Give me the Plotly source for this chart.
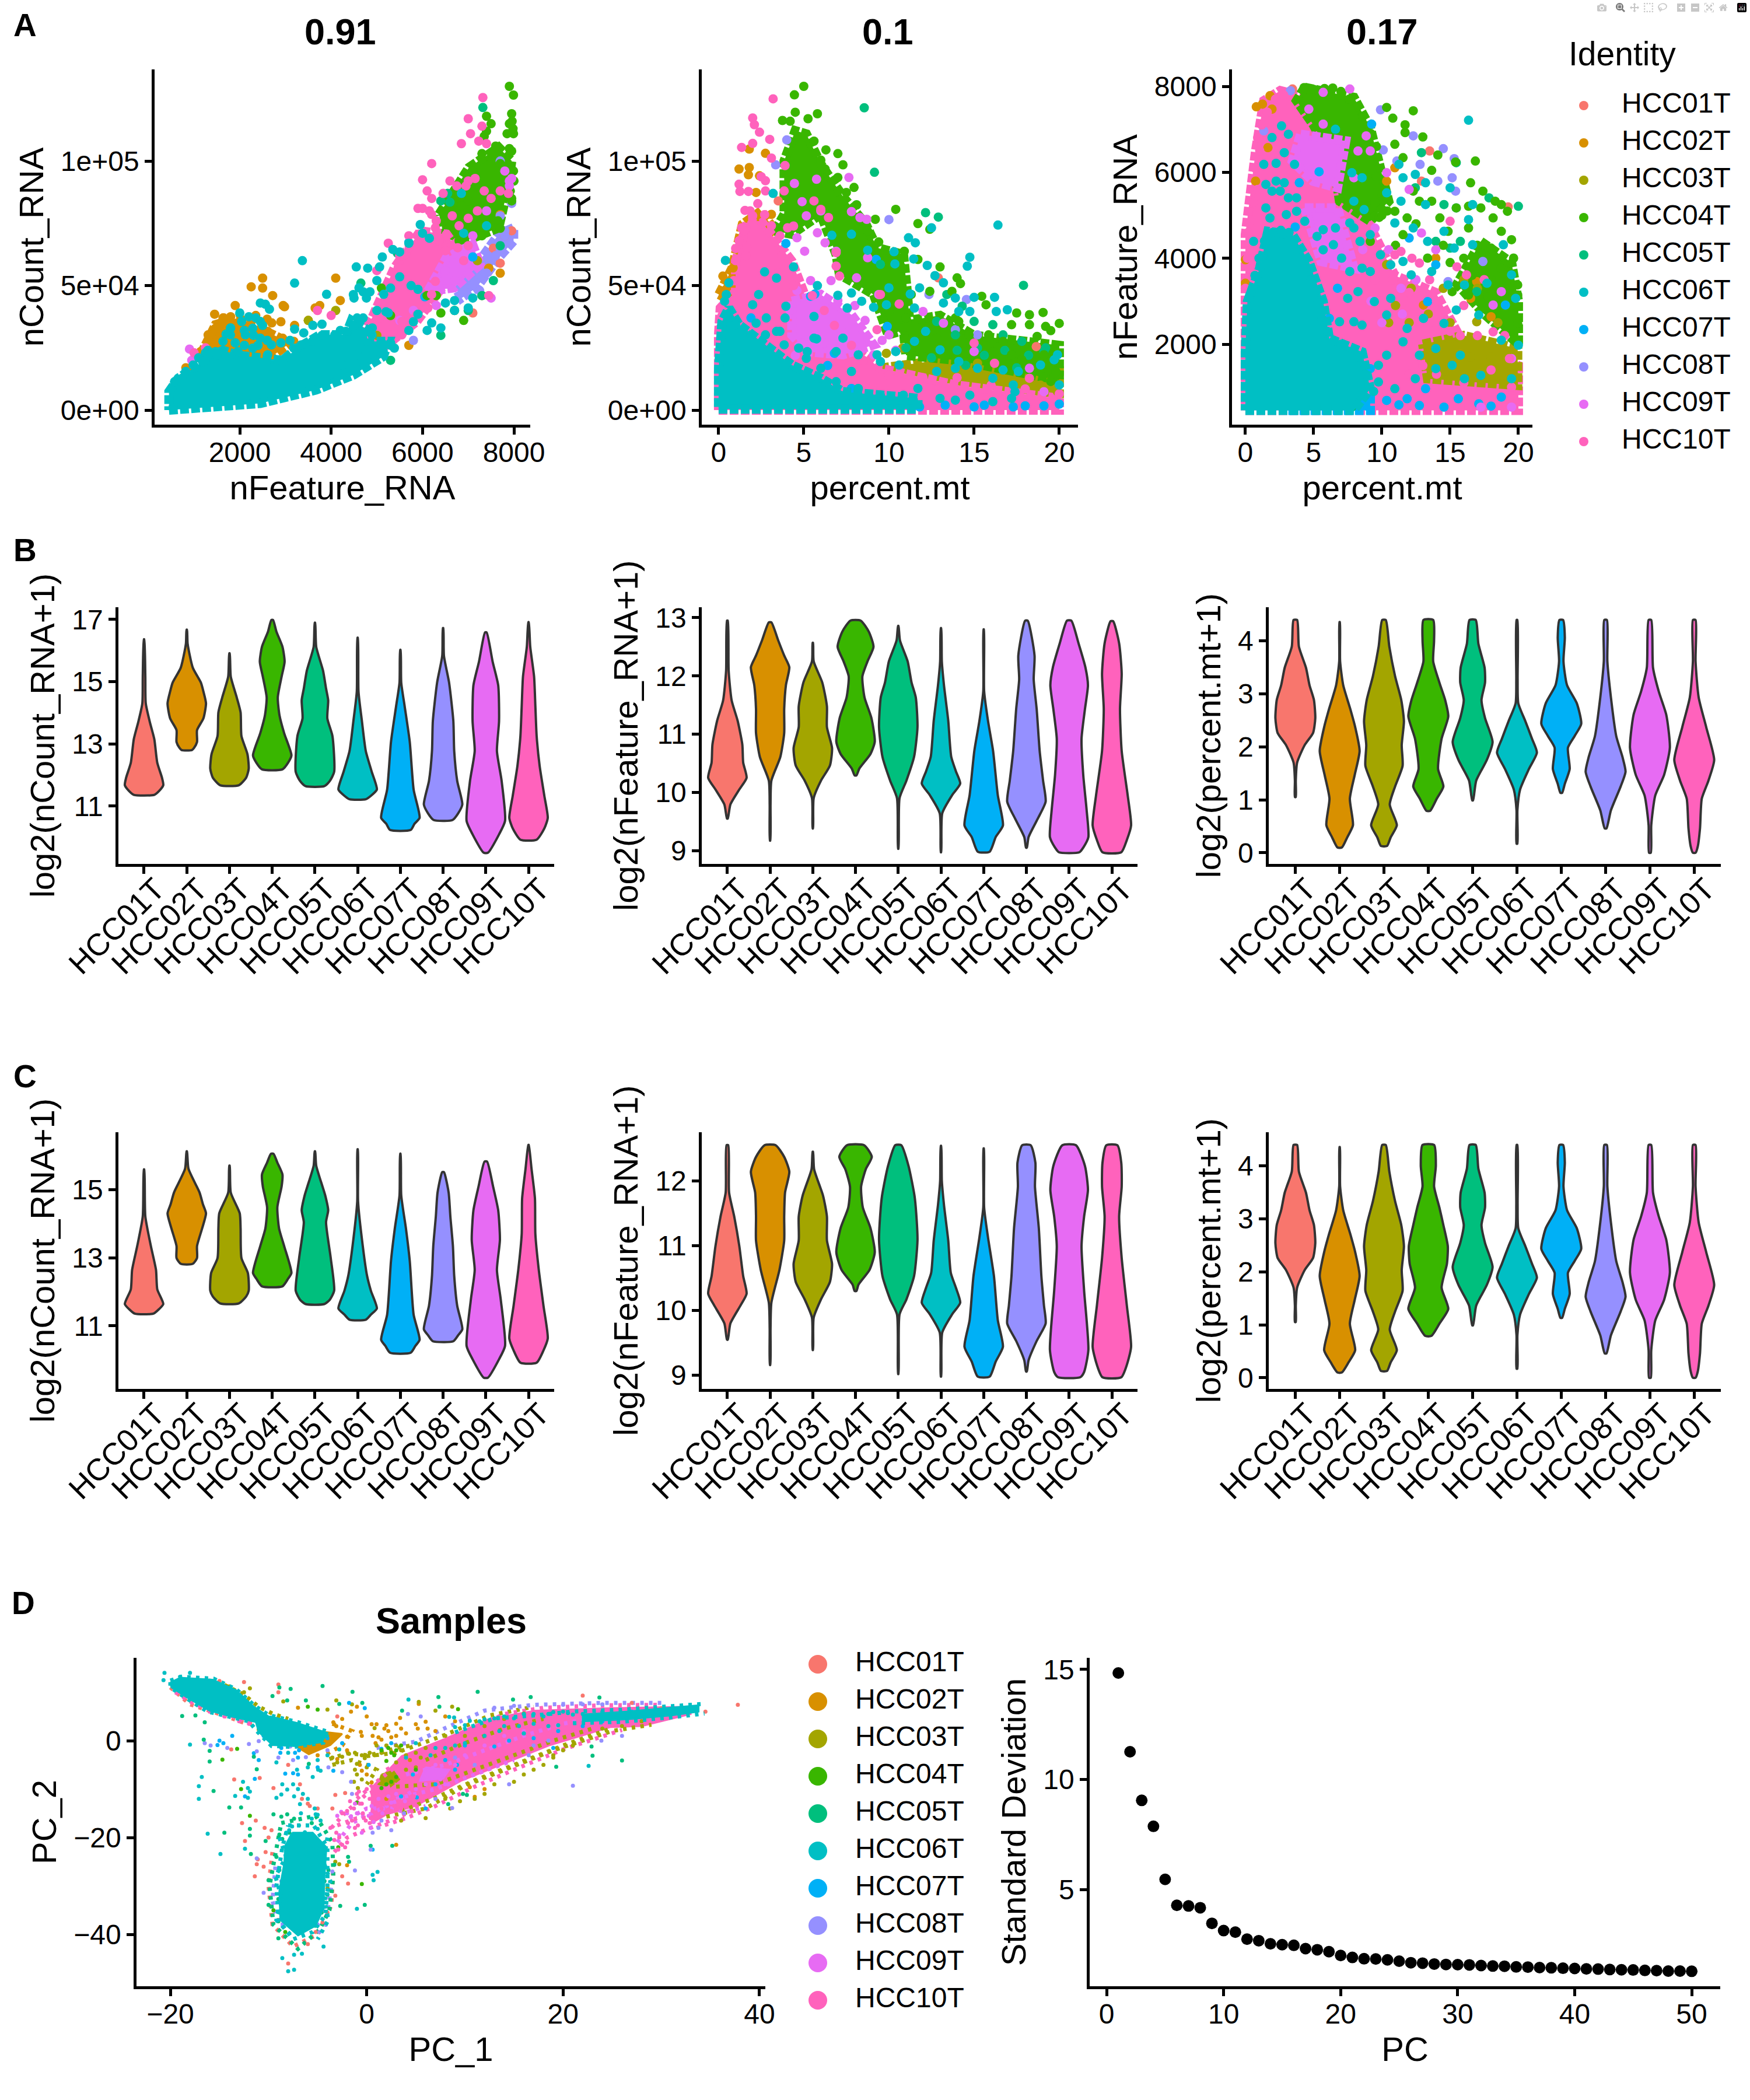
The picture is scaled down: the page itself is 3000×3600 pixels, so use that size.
import plotly.graph_objects as go

SAMPLES = ["HCC01T", "HCC02T", "HCC03T", "HCC04T", "HCC05T", "HCC06T", "HCC07T", "HCC08T", "HCC09T", "HCC10T"]
COLORS = ["#F8766D", "#D89000", "#A3A500", "#39B600", "#00BF7D", "#00BFC4", "#00B0F6", "#9590FF", "#E76BF3", "#FF62BC"]
# cyan sits on top in the scatter panels
DRAW_ORDER = [0, 1, 2, 6, 7, 4, 3, 8, 9]
FONT = "Liberation Sans"

# ---- panel A, nFeature_RNA vs nCount_RNA ----
A1_DENSE = {
    1: [[(1144, 22200), (1470, 34300), (1959, 37000), (2448, 33000), (3100, 27000), (2448, 18000), (1633, 16800)]],
    7: [[(6769, 47700), (7258, 59800), (7666, 70600), (7992, 73200), (7992, 67900), (7666, 61200), (7177, 49100), (6851, 45000)]],
    3: [[(6361, 78600), (7014, 97400), (7666, 105500), (7951, 100100), (7870, 89400), (7666, 73200), (6932, 67900), (6443, 71900)]],
    9: [[(4405, 22200), (4894, 37000), (5383, 57100), (5954, 71900), (6524, 70600), (6851, 62500), (6524, 51700), (5872, 35600), (5220, 26200), (4894, 22200)]],
    8: [[(6117, 47700), (6524, 61200), (7095, 66500), (7258, 58500), (6687, 49100)]],
    5: [[(451, 0), (2448, 2700), (3671, 8100), (4486, 14100), (5139, 21500), (5261, 27600), (4812, 27600), (4731, 32900), (4446, 36000), (4323, 30200), (3753, 30200), (3264, 24900), (2937, 20000), (2448, 21000), (1959, 22000), (1633, 24000), (1307, 21000), (981, 16800), (655, 12800), (451, 7400)]],
}
A1_HCC01 = [(7800, 70000), (7700, 59000), (7950, 72000), (7550, 65000), (7100, 39000)]
A1_HCC02 = [(2500, 53000), (2250, 49500), (2500, 49000), (2720, 46000), (2950, 42000), (2980, 41500), (1900, 42000), (1450, 38500), (2350, 38000), (2600, 36500), (2700, 35000), (2900, 35500), (3200, 34000), (3750, 42000), (3650, 41000), (4100, 53000), (1650, 37000), (1800, 37500), (2050, 36000), (2200, 34000), (820, 17000), (1000, 16000), (1100, 21000), (7700, 78500), (7450, 57000), (7700, 55000), (7300, 46000), (5700, 26000), (3500, 36000), (4200, 44000), (1307, 30200), (1470, 32900), (1633, 37000), (1144, 23500), (2611, 31600), (2937, 28900), (3182, 27600), (1959, 18100), (2367, 20200)]
A1_HCC03 = [(3500, 36000), (4100, 40000), (5000, 30000), (7200, 60000)]
A1_HCC04 = [(7900, 130000), (7990, 126500), (7950, 119000), (7960, 116000), (7900, 115000), (7400, 118000), (7500, 115000), (7850, 111000), (7990, 111000), (7980, 113000), (7350, 110000), (7400, 112000), (7600, 106000), (7900, 105000), (7950, 104000), (7300, 103000), (7100, 96000), (7700, 99000), (7990, 96000), (8000, 92000), (7950, 85000), (7950, 84000), (7920, 88000), (7600, 89000), (7300, 88000), (7000, 84000), (6850, 82000), (6700, 80000), (7500, 80000), (7650, 76000), (7700, 73000), (7300, 70000), (7100, 74000), (6800, 68000), (6100, 46000), (6400, 39000), (6700, 40000), (6900, 36000), (6300, 46000), (5300, 38000), (5100, 49000)]
A1_HCC05 = [(7320, 121500), (5450, 63000), (6550, 87000), (6600, 83500), (6400, 84000), (7300, 46000), (6400, 30000), (4650, 51000), (7550, 52000), (7000, 40000), (5300, 20000), (7700, 66000)]
A1_HCC06 = [(3370, 60000), (3200, 51000), (3900, 46500), (4550, 57500), (4800, 57000), (5060, 57500), (5120, 61500), (5350, 64500), (5500, 63500), (5700, 67000), (5950, 74500), (6000, 71000), (6150, 69000), (6850, 87000), (7400, 74000), (6900, 71000), (5000, 52000), (5150, 46500), (5300, 49000), (5500, 53500), (5750, 50000), (5900, 48500), (4500, 45000), (4700, 47500), (4850, 47500), (2450, 43000), (2560, 42500), (2650, 40500), (2000, 39000), (2200, 37500), (2350, 37000), (1800, 33000), (1700, 30500), (2100, 32000), (2500, 34000), (2300, 30000), (2600, 28000), (2900, 27000), (2400, 26000), (2100, 26000), (3200, 32500), (3400, 31000), (3600, 34000), (3800, 34500), (4200, 32000), (4500, 34000), (4700, 37000), (5000, 40000), (5200, 39500), (5250, 39000), (4900, 33000), (4700, 31000), (4400, 28000), (5100, 27000), (5300, 27000), (5700, 32000), (5800, 35500), (5900, 38500), (6100, 32000), (6200, 35000), (6400, 33000), (6700, 40000), (7000, 41000), (7100, 45000), (6700, 44000), (6500, 43000), (1300, 24000), (1250, 23000), (1100, 21000), (3800, 30000), (3100, 28000), (1500, 22000), (1900, 27000)]
A1_HCC06_EDGE = [(573, 11400), (736, 12800), (818, 15500), (981, 18100), (1185, 19500), (1307, 22200), (1470, 23500), (1633, 27600), (1796, 30200), (1796, 32900), (2041, 35600), (2122, 30200), (2285, 32900), (2448, 35600), (2448, 28900), (2693, 26200), (2285, 24900), (1959, 23500), (2611, 22200), (2937, 19500), (3182, 24900), (3345, 26200), (3590, 27600), (3834, 30200), (4079, 30200), (4323, 31600), (4568, 37000), (4486, 46400), (4609, 49100), (4772, 45000), (4894, 30200), (5139, 23500), (5383, 24900), (4894, 24900), (4568, 22200), (4242, 18100)]
A1_HCC07 = [(1300, 24000), (7100, 61500), (6050, 45500), (5700, 67300), (1000, 14000)]
A1_HCC08 = [(7950, 83000), (7800, 70000), (7800, 72000), (7700, 64000), (7600, 62000), (7400, 55000), (7250, 48000), (7700, 78000), (5800, 28000), (5000, 25000), (7700, 100000)]
A1_HCC09 = [(900, 24500), (950, 20000), (7800, 96000), (7900, 92000), (7950, 93000), (7900, 90000), (7400, 80000), (7100, 70000), (6900, 63000), (7500, 45000), (6500, 56000), (6700, 52000), (6300, 42000), (5800, 40000), (5500, 36000)]
A1_HCC10 = [(7320, 125500), (7000, 117000), (7300, 114000), (7050, 111000), (7230, 108000), (6850, 107000), (7400, 107000), (6200, 99000), (6000, 92500), (7000, 92000), (6100, 88000), (6200, 85000), (6450, 87000), (6600, 92000), (6750, 90000), (6950, 90000), (7150, 93000), (7350, 88000), (7700, 88000), (7880, 87000), (5900, 81000), (6000, 81000), (6150, 80000), (6300, 76000), (6650, 78000), (6800, 74000), (7000, 77000), (7200, 80000), (7500, 85000), (5700, 70000), (5250, 67000), (5500, 62000), (6500, 64000), (7000, 66000), (6900, 60000), (7450, 46000), (5000, 56000), (1000, 23000), (1250, 25000), (3700, 40000), (4000, 38000), (4731, 30200), (4894, 32900), (5057, 37000), (5220, 46400), (5465, 57100), (5628, 62500), (5710, 65200), (5913, 70600), (6198, 78600), (6280, 73200), (6524, 70600), (6361, 67900), (6769, 65200), (6198, 46400), (6280, 51700), (5872, 38300), (5546, 30200), (5139, 26200), (4486, 26200), (4812, 23500), (5302, 30200), (5546, 35600), (6117, 41000)]
A1_POINTS = [A1_HCC01, A1_HCC02, A1_HCC03, A1_HCC04, A1_HCC05, A1_HCC06 + A1_HCC06_EDGE, A1_HCC07, A1_HCC08, A1_HCC09, A1_HCC10]

# ---- panel A, percent.mt vs nCount_RNA ----
A2_DENSE = {
    1: [[(0.02, 46400), (0.8, 57100), (1.4, 74600), (2.5, 80000), (3.2, 73200), (1.7, 57100), (0.8, 43700)]],
    2: [[(9.5, 16800), (14, 21000), (20, 16000), (20, 4700), (13.9, 10100)]],
    3: [[(3.3, 71900), (3.85, 78600), (3.85, 100100), (4.5, 112200), (5.15, 110900), (6, 98800), (7.35, 85300), (8.65, 74600), (9.3, 65200), (10.85, 62500), (11.05, 49100), (11.25, 32900), (9.95, 30200), (9.1, 46400), (7.8, 51700), (7.1, 54400), (6.9, 62500), (6, 78600), (4.3, 70600)],
        [(10.8, 35600), (13, 38000), (15, 30000), (20, 26000), (20, 12000), (14, 20000), (11, 22000)]],
    9: [[(0, 0), (20, 0), (20, 4700), (13.9, 10100), (9.5, 16800), (6.9, 30200), (5.2, 43700), (4.3, 59800), (2.5, 75900), (1.7, 75900), (1.0, 59800), (1.0, 47700), (0.1, 41000), (0, 30200)]],
    8: [[(4.3, 43700), (6, 46400), (7.8, 38300), (9.1, 26200), (7.3, 22200), (5.2, 23500), (4.3, 30200)]],
    5: [[(0, 400), (11.7, 400), (11.7, 4700), (7.3, 7400), (6.0, 12800), (4.3, 18100), (2.5, 27500), (1.2, 34300), (0.6, 41000), (0.2, 35600), (0, 16800)]],
}
A2_HCC01 = [(18.65, 25500), (12.9, 53100), (3.5, 84000)]
A2_HCC02 = [(0.25, 53800), (0.25, 47700), (0.35, 48000), (0.85, 57100), (1.2, 96800), (1.8, 97400), (1.75, 94500), (1.8, 104800), (2.75, 103100), (2.4, 94100), (2.2, 87400), (2.3, 78600), (3.1, 78600)]
A2_HCC03 = [(13.9, 16800), (13.6, 16100), (10.8, 24900), (9.85, 22800), (15.2, 18800), (18.9, 10000), (19.9, 7400)]
A2_HCC04 = [(5.0, 130000), (4.45, 126600), (4.5, 119600), (5.8, 119000), (5.25, 117000), (3.75, 116300), (4.2, 116000), (5.6, 108000), (6.3, 104500), (7, 103000), (6, 100400), (7.3, 98500), (6.25, 96800), (7, 93400), (7.95, 89400), (7.5, 87400), (8.1, 82400), (9.2, 76600), (10.4, 80600), (11.7, 74900), (12.4, 72600), (8.75, 71900), (9.4, 67500), (10.9, 63800), (10.8, 57100), (11.7, 60500), (13, 57500), (14, 53100), (14.2, 50800), (13.7, 47700), (15.45, 45700), (15.7, 42300), (17.5, 39000), (18.25, 38300), (19.05, 39200), (20, 34800), (18.25, 34300), (17.2, 34300), (19.2, 33600), (19.5, 31900), (18.7, 29600), (16.7, 27600), (15.85, 30200), (14.7, 30200), (12.8, 28900), (13.9, 37000), (16.1, 23500), (19.1, 22200), (19.8, 15500), (19.5, 11500), (17.8, 20200), (17.2, 22200), (14.1, 35600), (11.3, 46400), (12.4, 47700), (10, 39700), (11, 37000)]
A2_HCC05 = [(8.55, 121400), (9.15, 95500), (8.1, 82400), (12.15, 79300), (12.9, 77500), (17.9, 50100), (11.3, 46400), (9.5, 58500), (13.4, 46400), (15, 35600), (16.1, 34300), (16.7, 30200), (13.9, 30200), (14.3, 41700), (15.2, 24900), (12.8, 35600), (17.8, 27600), (19.1, 23500), (11, 25000), (12.5, 21000), (14, 24000), (15.6, 22000), (16.8, 24000), (18.2, 22000), (19.2, 25000), (17.5, 17000), (14.5, 18000)]
A2_HCC06 = [(16.4, 74300), (11.15, 69200), (11.55, 67200), (12.5, 73200), (10.3, 63600), (8.75, 64200), (7.8, 70600), (6.65, 70200), (11.45, 60700), (10.35, 58700), (12.25, 58100), (14.75, 61400), (14.6, 57800), (12.7, 54000), (13.2, 51100), (10, 49100), (11.8, 49100), (11.25, 46600), (15, 45300), (16.2, 45300), (13.2, 43000), (13.9, 45000), (11.5, 41000), (9.85, 42300), (9.1, 41300), (8.4, 43700), (7.8, 47000), (7, 46100), (5.8, 50000), (4.4, 57500), (0.4, 60100), (0.6, 51100), (2.7, 55500), (3.4, 53000), (2.35, 46400), (3.2, 87000), (16.95, 40300), (16.3, 39600), (14.75, 39600), (14.1, 39600), (12.15, 31600), (11.5, 27600), (13, 24200), (14.1, 19500), (15.2, 16800), (16.7, 16100), (17.6, 15500), (18.9, 18100), (19.7, 20200), (19.9, 22200), (20, 10100), (17.3, 10100), (16.1, 12800), (13.9, 16800), (12.8, 15500), (11.7, 8700), (10.6, 18100), (9.5, 19500), (8.2, 22200), (7.8, 15500), (9.3, 22200), (10.4, 23500), (6.9, 23500), (5.6, 28900), (5.2, 23500), (3.95, 41700), (3.9, 37000), (2.8, 37000), (2, 42300), (2.2, 34900), (3.6, 31600), (5.75, 28600), (7.3, 28900), (5.6, 37600), (7.55, 41000)]
A2_HCC06_EDGE = [(.7, 35600), (1, 34300), (1.45, 32300), (1.9, 30200), (2.75, 30200), (3.4, 31600), (3.85, 26200), (4.7, 24900), (5.15, 20800), (6, 16800), (6.9, 11400), (8.2, 8700), (9.5, 6000), (10.85, 6000), (13, 4700), (13.9, 4000), (14.75, 6000), (16.1, 3400), (17.4, 7400), (17.2, 4700), (.35, 43700), (.45, 46400)]
A2_HCC07 = [(3.95, 66900), (9.25, 60500), (5.4, 45700), (5.65, 46600), (9.9, 33600), (1.9, 37000), (6.4, 17900), (6.8, 22800), (7.8, 8700), (13.3, 2000), (15, 1300), (17.3, 1300), (18, 1700), (19.1, 1700), (20, 2400), (11.8, 1300), (15.6, 2000)]
A2_HCC08 = [(10, 76500), (4, 108500), (3.35, 98500), (14.55, 44400), (13.9, 32300), (15.2, 30200), (12.35, 46400)]
A2_HCC09 = [(4.45, 91000), (5.75, 92700), (4.9, 83700), (5.15, 78000), (6, 80000), (7.65, 93400), (7.8, 79700), (8.3, 77300), (8.7, 76600), (5.8, 71200), (4.6, 69200), (5.05, 63800), (6.25, 67200), (6.9, 63800), (8.75, 61200), (8.1, 53100), (9.4, 46400), (12, 39600), (13.2, 34900), (10, 30200), (9.1, 22200), (15, 23500), (18.25, 16800), (19.1, 7400), (4.2, 40000), (4.6, 48000), (5.4, 52000), (6.6, 52000), (7, 44000), (8, 42000), (8.6, 36000), (9.6, 28000), (10.4, 24000), (7.2, 32000), (6.2, 27000), (5, 27000), (4.5, 22000)]
A2_HCC10 = [(3.2, 125000), (2, 117300), (2.1, 114600), (2.4, 111600), (3, 108700), (1.35, 105500), (2, 107100), (3.1, 101200), (3.9, 98200), (2.5, 93700), (2.75, 92100), (1.2, 90700), (1.25, 87800), (1.75, 87800), (2.75, 88000), (3.85, 88000), (2.3, 82900), (1.55, 80200), (1.85, 80000), (1.35, 73200), (1, 64900), (1.65, 65200), (4.05, 73200), (4.4, 73900), (6.45, 77300), (6.9, 63200), (6.9, 57800), (7.1, 53800), (6, 80600), (9.5, 46400), (10.6, 42600), (9.3, 32300), (15, 26900), (16.2, 18800), (18.25, 12800), (5.6, 84000), (1.0, 60000), (1.2, 68000), (1.5, 72000), (2.0, 78000), (2.7, 78500), (3.1, 74000), (3.6, 70000), (3.7, 62000), (3.5, 55000), (4.4, 50000), (5.5, 46000), (6.2, 40000), (6.8, 34000), (7.8, 26000), (8.5, 20000), (10, 14000), (12, 13000), (14, 13000), (16, 10000), (18, 8500), (20, 6500), (0.9, 52000), (0.2, 38000), (0.1, 33000), (1.6, 62000)]
A2_POINTS = [A2_HCC01, A2_HCC02, A2_HCC03, A2_HCC04, A2_HCC05, A2_HCC06 + A2_HCC06_EDGE, A2_HCC07, A2_HCC08, A2_HCC09, A2_HCC10]

# ---- panel A, percent.mt vs nFeature_RNA ----
A3_DENSE = {
    9: [[(0, 460), (20, 460), (20, 1500), (16, 2000), (13.95, 3200), (10.95, 3600), (9.45, 4548), (8.55, 5170), (6.75, 5950), (6.75, 6885), (5.55, 7665), (2.55, 7900), (1.35, 7665), (0.75, 6496), (0, 4548), (0, 2210)]],
    2: [[(13, 2000), (16, 2200), (19.95, 1900), (19.95, 1042), (13.35, 1197)]],
    3: [[(4.35, 7976), (7.95, 7743), (9.15, 7041), (9.75, 6262), (10.5, 5327), (9.15, 4860), (6.9, 5327), (6.45, 6262), (4.95, 7120), (3.75, 7665)],
        [(17.25, 4392), (19.5, 3900), (20, 3000), (20, 2000), (17.5, 2700), (15.5, 3400)]],
    8: [[(4.05, 6885), (7.35, 6730), (6.75, 5639), (4.95, 5795), (3.45, 6262)],
        [(4.35, 5170), (6.75, 5170), (7.95, 3769), (5.55, 3925)]],
    6: [[(3.15, 460), (9.15, 460), (9.15, 730), (6.75, 730), (3.15, 613)]],
    5: [[(0, 460), (7.95, 460), (9.15, 964), (8.55, 1821), (6.15, 2132), (5.7, 2990), (4.65, 3925), (3.45, 4548), (1.65, 4626), (1.05, 3769), (0.15, 2990), (0, 1821)]],
}
A3_HCC01 = [(13.5, 6496), (19.25, 5195), (12.9, 5795), (3.45, 7938)]
A3_HCC02 = [(0.8, 7524), (1.25, 7587), (1.8, 7782), (1.95, 7470), (1.65, 6574), (0.75, 5795), (0, 3964), (0, 3418), (10.95, 6106), (10.35, 5795), (13.05, 2911), (13.95, 4003), (16.95, 3457), (16.5, 3067), (18, 2639)]
A3_HCC03 = [(10.35, 3850), (12.15, 3300), (13.95, 1900), (16.95, 2522), (15, 2500), (11, 2900), (10.5, 2500), (12, 2500), (13.4, 2700), (14.5, 3300), (16, 3500), (17, 3300), (18.5, 2500), (19.5, 1500), (18, 1700), (16.5, 1700)]
A3_HCC04 = [(10.35, 7509), (12.3, 7431), (10.8, 7259), (11.7, 7104), (13, 6823), (11.7, 6925), (10.95, 6652), (11.55, 6340), (14.1, 6402), (13.65, 6044), (15.4, 6239), (16.85, 6262), (16.5, 5756), (17.4, 5561), (18.3, 5327), (18.75, 5249), (16.35, 5210), (17.25, 5171), (18.15, 4938), (19.2, 5093), (18.75, 4626), (19.5, 4431), (18, 4236), (16.35, 4704), (15.45, 5171), (13.65, 5327), (12.3, 5561), (10.95, 5093), (11.85, 4938), (14.25, 4938), (14.85, 4626), (12.75, 5327), (18.75, 3769), (19.65, 4003), (19.95, 3379), (19.95, 3145), (19.95, 2483), (16.95, 3769), (13.35, 4003), (11.55, 4548), (9.15, 4392), (15.15, 3223), (16.35, 3145), (4.3, 7970), (5, 7930), (5.8, 7950), (6.4, 7960), (7, 7880), (7.6, 7700), (8.6, 7300), (9.2, 6900), (9.6, 6600), (9.6, 5900), (10, 5500), (10.4, 5100), (9.8, 4950), (9.5, 5300), (15, 3900), (16, 4000), (17, 4300), (18, 3500), (19, 3300), (19.5, 2700), (17.8, 3100), (14.5, 4300), (16.6, 3600), (12.5, 4800), (11, 4300), (10, 5000)]
A3_HCC05 = [(12.9, 6457), (15.45, 6223), (17.85, 5405), (20, 5210), (14.55, 5249), (15, 4236), (15.75, 4392), (13.95, 4392), (16.95, 3223), (12.45, 5639), (7.8, 535)]
A3_HCC06 = [(16.35, 7212), (1.35, 6184), (2.25, 6208), (2.85, 6457), (3.15, 6885), (2.65, 7080), (1.95, 6808), (3.6, 6184), (1.5, 5717), (2.25, 5795), (2.85, 5756), (1.95, 5561), (2.55, 5561), (3.15, 5405), (3.75, 5405), (1.5, 5171), (1.8, 4937), (3, 5015), (3.75, 5093), (4.35, 4860), (0.6, 4392), (5.25, 4509), (5.7, 4665), (6.6, 4704), (7.65, 4820), (7.95, 4704), (6.45, 4314), (5.7, 4197), (7.05, 4003), (7.65, 3691), (8.55, 3769), (8.4, 4392), (9.15, 4548), (7.95, 5327), (8.7, 5132), (7.8, 5990), (6.6, 7002), (8.55, 5873), (10.35, 5522), (11.25, 6184), (12.45, 5951), (11.55, 5873), (13.2, 5756), (15, 5639), (16.65, 5249), (11.4, 5327), (13.2, 5249), (10.95, 4820), (12.3, 4704), (13.35, 4392), (14.55, 4626), (16.35, 4899), (16.65, 4314), (15.3, 4236), (9.9, 4081), (10.65, 3847), (11.55, 3925), (12.15, 3613), (13.65, 3691), (14.85, 3379), (16.05, 3379), (17.7, 3418), (18.9, 4314), (19.5, 3613), (9.45, 2990), (10.65, 3067), (9.15, 3691), (8.25, 3223), (7.5, 3067), (6.9, 2522), (7.95, 2522), (8.55, 2444), (10.35, 2678), (11.85, 2366), (13.05, 2600), (14.55, 2483), (15.45, 2795), (17.1, 2678), (19.8, 3067), (18.75, 2093), (20, 1977), (19.5, 1197), (17.25, 1275), (16.05, 1197), (13.95, 1431), (15.15, 1509), (12.75, 1743), (11.55, 2055), (10.35, 1743), (9.75, 1120), (10.95, 964), (12.45, 1197), (9.75, 1509), (13.95, 1899), (15.75, 1743), (1, 4000), (1.4, 4400), (2, 4600), (2.6, 4650), (3.2, 4600), (3.8, 4200), (4.2, 3900), (4.8, 3500), (5.3, 3000), (5.6, 2600), (6, 2300), (7, 2000), (8.2, 1700), (8.8, 1300), (9.4, 900), (.4, 3200), (.7, 3600)]
A3_HCC07 = [(9.25, 7120), (5.4, 6013), (3.95, 5756), (3.65, 4727), (12, 4470), (15.45, 5171), (6.75, 3301), (6.15, 2600), (9.15, 1431), (13.35, 2990), (13.95, 3847), (19.05, 2911), (7.95, 652), (10.35, 691), (11.25, 590), (12.75, 574), (14.55, 535), (15.6, 730), (17.1, 613), (18, 559), (18.75, 769), (13.2, 964), (11.85, 730)]
A3_HCC08 = [(9.9, 7454), (10.1, 6520), (14.5, 6550), (15.3, 6317), (12.8, 6184), (14.1, 5795), (15.15, 5873), (15.4, 5561), (3.3, 7900), (1.35, 6964), (11.1, 6262), (12.3, 6847), (14.85, 3457), (17.4, 3925)]
A3_HCC09 = [(7.65, 7938), (5.7, 7860), (4.65, 7470), (5.7, 7120), (8.85, 6847), (8.25, 6496), (9.15, 6496), (10.35, 5990), (12, 5600), (12.9, 4587), (13.95, 4197), (18.15, 2911), (19.5, 1665), (18.75, 3223), (7.95, 5873), (19.5, 535), (17.25, 535), (9.5, 4700), (10.5, 4200), (11.4, 3300), (12.5, 3500), (8.6, 4200), (9.2, 3000), (10, 2500), (11.5, 2700)]
A3_HCC10 = [(15, 4860), (16.2, 3613), (12.75, 3886), (13.5, 3500), (10.95, 4081), (11.4, 4158), (18.15, 2288), (13.5, 2500), (15.75, 2200), (19.35, 1665), (.1, 2400), (0, 2800), (0, 3300), (.15, 4000), (.2, 4600), (.6, 4900), (.6, 5300), (.9, 5600), (.7, 6100), (1.05, 6500), (.9, 6800), (1.2, 7100), (1.6, 7400), (2.2, 7700), (2.8, 7800), (10, 3000), (11, 2000), (12, 3200), (13, 1500), (14, 3000), (15, 2300), (16, 2900), (17, 2200), (18, 1400), (19, 2200), (10, 1500), (12, 1300), (16, 1100), (19.5, 1000), (14, 1300), (9.5, 3500), (10.8, 3500), (12.2, 4000), (15.5, 3800), (17.5, 3500)]
A3_POINTS = [A3_HCC01, A3_HCC02, A3_HCC03, A3_HCC04, A3_HCC05, A3_HCC06, A3_HCC07, A3_HCC08, A3_HCC09, A3_HCC10]

# ---- violin outlines: y levels and half widths in category units ----
B1_Y = [
    [16.36, 15.16, 14.30, 13.73, 13.15, 12.39, 11.91, 11.67, 11.48, 11.36],
    [16.67, 16.22, 15.45, 14.97, 14.68, 14.30, 13.82, 13.44, 13.06, 12.87, 12.80],
    [15.91, 15.16, 14.49, 14.01, 13.25, 12.67, 12.20, 11.91, 11.67],
    [16.98, 16.60, 16.12, 15.64, 15.16, 14.49, 13.92, 13.34, 12.63, 12.39, 12.18],
    [16.89, 16.12, 15.35, 14.78, 14.40, 13.82, 13.25, 12.10, 11.81, 11.64],
    [16.41, 14.68, 13.73, 12.77, 12.10, 11.53, 11.33, 11.22],
    [16.02, 14.97, 14.21, 13.06, 11.53, 10.62, 10.43, 10.23],
    [16.72, 15.83, 14.97, 13.73, 12.77, 11.81, 11.05, 10.76, 10.55],
    [16.58, 15.64, 14.88, 13.73, 12.77, 11.81, 10.52, 10.09, 9.50],
    [16.91, 16.12, 15.16, 14.21, 13.25, 12.29, 11.33, 10.62, 10.28, 9.92],
]
B1_W = [
    [.005, .03, .04, .13, .24, .31, .42, .45, .35, .24],
    [.005, .02, .14, .33, .39, .45, .39, .24, .24, .17, .12],
    [.005, .03, .17, .26, .28, .42, .45, .39, .22],
    [.02, .1, .24, .29, .22, .13, .17, .28, .45, .37, .24],
    [.005, .03, .19, .26, .31, .29, .41, .45, .35, .22],
    [.005, .02, .10, .19, .33, .45, .31, .19],
    [.005, .02, .10, .22, .31, .45, .33, .24],
    [.005, .02, .14, .24, .26, .33, .45, .35, .22],
    [.02, .16, .29, .31, .26, .37, .45, .31, .05],
    [.005, .04, .13, .16, .19, .26, .37, .45, .37, .19],
]
B2_Y = [
    [12.95, 12.09, 11.58, 11.23, 10.82, 10.51, 10.25, 10.05, 9.79, 9.55],
    [12.92, 12.61, 12.35, 12.15, 11.84, 11.43, 11.02, 10.61, 10.20, 9.79, 9.17],
    [12.57, 12.25, 11.89, 11.48, 11.12, 10.76, 10.46, 10.20, 9.90, 9.38],
    [12.95, 12.76, 12.50, 12.25, 11.99, 11.63, 11.28, 10.87, 10.66, 10.41, 10.29],
    [12.86, 12.61, 12.25, 11.89, 11.63, 11.12, 10.61, 10.20, 9.90, 9.03],
    [12.82, 12.25, 11.84, 11.23, 10.61, 10.36, 10.15, 9.95, 9.64, 8.97],
    [12.80, 11.74, 11.23, 10.71, 9.95, 9.43, 9.23, 8.98],
    [12.95, 12.35, 11.94, 11.43, 10.71, 10.20, 9.84, 9.54, 9.23, 9.05],
    [12.95, 12.56, 12.15, 11.84, 11.43, 10.92, 10.30, 9.69, 9.23, 9.05, 8.97],
    [12.94, 12.56, 12.04, 11.43, 10.71, 9.95, 9.43, 9.18, 8.97],
]
B2_W = [
    [.01, .03, .10, .24, .35, .37, .45, .28, .07, .01],
    [.03, .19, .33, .45, .37, .33, .33, .24, .03, .01, .005],
    [.005, .02, .22, .33, .33, .45, .40, .19, .02, .005],
    [.12, .31, .42, .28, .16, .21, .37, .45, .35, .09, .02],
    [.005, .04, .22, .31, .41, .45, .37, .19, .03, .005],
    [.005, .02, .07, .17, .24, .35, .45, .26, .03, .005],
    [.005, .01, .10, .22, .33, .45, .28, .14],
    [.03, .19, .17, .24, .31, .39, .45, .26, .05, .01],
    [.05, .22, .38, .44, .37, .29, .33, .41, .45, .33, .24],
    [.03, .17, .23, .19, .23, .37, .45, .35, .22],
]
B3_Y = [
    [4.39, 3.89, 3.49, 3.16, 2.88, 2.54, 2.26, 2.03, 1.70, 1.36, 1.05],
    [4.35, 3.61, 3.16, 2.71, 2.37, 1.92, 1.47, 1.02, .52, .29, .10],
    [4.39, 3.89, 3.33, 2.88, 2.48, 2.03, 1.64, 1.25, .91, .52, .29, .13],
    [4.39, 4.00, 3.61, 3.21, 2.88, 2.57, 2.15, 1.58, 1.25, 1.02, .79],
    [4.39, 3.94, 3.49, 3.21, 2.88, 2.54, 2.09, 1.75, 1.36, .99],
    [4.39, 3.27, 2.82, 2.48, 2.15, 1.89, 1.58, 1.19, .80, .17],
    [4.39, 4.06, 3.61, 3.16, 2.82, 2.43, 2.20, 1.98, 1.58, 1.30, 1.13],
    [4.39, 3.61, 2.93, 2.20, 1.81, 1.53, 1.25, .80, .46],
    [4.39, 3.49, 3.04, 2.60, 1.98, 1.47, 1.08, .52, 0],
    [4.39, 3.61, 2.93, 2.37, 1.75, 1.36, 1.02, .46, .12, 0],
]
B3_W = [
    [.04, .08, .24, .32, .42, .45, .40, .21, .04, .01, .01],
    [.005, .01, .08, .24, .35, .45, .34, .23, .30, .17, .05],
    [.04, .12, .25, .39, .45, .40, .42, .25, .13, .29, .15, .07],
    [.11, .13, .11, .25, .38, .45, .30, .22, .34, .19, .04],
    [.07, .13, .27, .28, .20, .28, .45, .32, .08, .01],
    [.01, .015, .03, .19, .34, .45, .27, .07, .01, .01],
    [.04, .08, .05, .13, .35, .45, .30, .15, .19, .08, .02],
    [.03, .04, .12, .24, .38, .45, .34, .12, .02],
    [.03, .07, .20, .37, .45, .32, .12, .03, .02],
    [.03, .03, .10, .27, .45, .32, .17, .13, .08, .03],
]
C1_Y = [
    [15.59, 14.21, 13.34, 12.64, 12.07, 11.64, 11.49, 11.36],
    [16.12, 15.61, 14.91, 14.56, 14.30, 13.86, 13.34, 12.99, 12.82],
    [15.70, 14.91, 14.30, 13.86, 12.99, 12.55, 12.03, 11.86, 11.66],
    [16.05, 15.79, 15.44, 15.09, 14.48, 13.86, 13.34, 12.55, 12.38, 12.16],
    [16.12, 15.70, 14.83, 14.39, 14.04, 12.99, 12.03, 11.77, 11.64],
    [16.18, 14.65, 13.34, 12.47, 12.03, 11.51, 11.33, 11.18],
    [16.05, 14.83, 13.86, 12.90, 11.33, 10.59, 10.41, 10.21],
    [15.51, 14.91, 14.21, 13.34, 12.47, 11.59, 10.90, 10.72, 10.55],
    [15.82, 15.09, 14.39, 13.52, 12.64, 11.77, 10.41, 10.02, 9.48],
    [16.31, 15.61, 14.74, 13.69, 12.64, 11.59, 10.63, 10.28, 9.92],
]
C1_W = [
    [.005, .03, .16, .28, .31, .45, .35, .22],
    [.005, .04, .30, .38, .45, .36, .24, .24, .14],
    [.005, .03, .24, .26, .28, .43, .45, .39, .22],
    [.03, .12, .24, .22, .12, .16, .28, .45, .37, .24],
    [.005, .03, .24, .31, .26, .37, .45, .35, .22],
    [.005, .01, .12, .22, .31, .45, .31, .19],
    [.005, .02, .13, .22, .31, .45, .35, .24],
    [.02, .13, .17, .23, .26, .33, .45, .35, .24],
    [.03, .17, .29, .33, .26, .35, .45, .31, .05],
    [.005, .07, .15, .16, .24, .35, .45, .35, .19],
]
C2_Y = [
    [12.55, 11.82, 11.45, 10.99, 10.53, 10.26, 10.08, 9.80, 9.55],
    [12.55, 12.37, 12.14, 11.82, 11.45, 11.08, 10.63, 10.12, 9.71, 9.16],
    [12.45, 12.18, 11.77, 11.45, 11.08, 10.72, 10.44, 10.17, 9.89, 9.39],
    [12.55, 12.37, 12.18, 11.91, 11.59, 11.27, 10.90, 10.63, 10.40, 10.30],
    [12.55, 12.23, 11.77, 11.50, 11.08, 10.53, 10.17, 9.94, 9.02],
    [12.54, 12.0, 11.63, 11.08, 10.58, 10.35, 10.12, 9.94, 9.66, 8.98],
    [12.50, 11.59, 11.13, 10.53, 9.85, 9.44, 9.21, 8.98],
    [12.55, 12.28, 11.91, 11.27, 10.53, 10.08, 9.80, 9.53, 9.23, 9.06],
    [12.55, 12.23, 11.86, 11.45, 10.99, 10.31, 9.39, 9.05, 8.97],
    [12.55, 12.28, 11.91, 11.45, 10.81, 10.08, 9.44, 9.16, 8.97],
]
C2_W = [
    [.02, .04, .16, .28, .37, .45, .31, .07, .01],
    [.13, .33, .45, .35, .33, .33, .22, .03, .01, .005],
    [.005, .03, .24, .33, .33, .45, .40, .19, .02, .005],
    [.20, .38, .24, .13, .17, .35, .45, .33, .07, .02],
    [.07, .24, .38, .42, .45, .37, .19, .03, .005],
    [.005, .02, .07, .17, .23, .35, .45, .26, .03, .005],
    [.005, .01, .10, .24, .33, .45, .28, .14],
    [.10, .21, .20, .29, .35, .41, .45, .24, .05, .01],
    [.16, .37, .44, .35, .29, .35, .45, .35, .26],
    [.13, .22, .23, .17, .23, .35, .45, .35, .22],
]
C3_Y = list(B3_Y)
C3_W = list(B3_W)
C3_Y[3] = [4.39, 4.00, 3.61, 3.21, 2.88, 2.48, 2.15, 1.70, 1.30, 1.02, .79]
C3_W[3] = [.13, .17, .13, .25, .34, .44, .42, .30, .45, .25, .07]
C3_W[1] = [.005, .01, .08, .24, .35, .45, .34, .23, .35, .20, .05]

# ---- panel D, PCA ----
D_DENSE = {
    1: [[(-7.4, -.9), (-4.3, 1.8), (-2.5, 1.4), (-3.7, -.9), (-5.9, -2.8)]],
    9: [[(0.5, -9.7), (3.55, -3.2), (8.1, .5), (12.65, 4.6), (17.2, 6.2), (24.8, 6.7), (33, 7), (33, 5.5), (28, 3), (24.8, 2.8), (18.7, -.9), (14.2, -4.6), (9.6, -8.3), (5.05, -13.4), (2.05, -15.2), (0.5, -17)]],
    8: [[(6, -5.5), (8.4, -6), (7.8, -7.8), (5.4, -8.3)]],
    2: [[(1.5, -7), (2.7, -6.2), (3.3, -8), (2.4, -9.5), (1.2, -9)]],
    5: [[(-20, 12), (-19, 13), (-15.7, 12.6), (-13.3, 10.4), (-11.5, 7), (-10, 5), (-11.2, 3.8), (-13.8, 5), (-16, 6.2), (-18.3, 8.9), (-19.9, 11)],
        [(-11.4, 4.6), (-9.8, 5), (-7, 3.6), (-4, 1.6), (-4.6, -.3), (-7.4, -1.1), (-9.6, -.9), (-11, 1.8)],
        [(-7.6, -19), (-5.5, -19), (-4.1, -22), (-4.3, -28), (-4.4, -34.6), (-5.2, -38.2), (-7, -40.2), (-8.8, -37), (-8.9, -31), (-8.4, -25.3), (-8.3, -21.7)],
        [(22, 5.4), (26.4, 6), (31, 6.8), (33.8, 7.3), (33.8, 6), (31, 5.2), (26.4, 4.4), (22, 4)]],
}
# outlines of the fuzzy edges round the clouds, drawn as rows of small dots
D_RINGS_UNDER = [
    (0, [(-20, 11), (-18, 7.5), (-15, 5.5), (-12.5, 3.7), (-10.5, 3)]),
    (9, [(-19.5, 10), (-17.5, 7.5), (-15, 6), (-12.5, 4.2), (-11, 3.5), (-9.5, -1)]),
    (2, [(-14.5, 11.5), (-12.5, 9.5), (-11, 7), (-9.5, 5.5), (-8, 4.5)]),
    (1, [(-3.5, 3.5), (-1.5, 2), (-2.5, -1), (-4.5, -3.2)]),
    (2, [(-3.8, -3.8), (-2, -2.6), (0, -3), (1.5, -2.5), (3, -1.5), (4.5, -1)]),
    (2, [(-3.5, -5), (-1.5, -4), (0, -5), (1, -6), (0, -9)]),
    (2, [(2, -15.7), (6, -14), (10, -9.3), (14.5, -5.6), (19, -2), (25, 2), (29, 3.3)]),
    (2, [(3.5, -14.5), (7, -11.8), (11, -8.2), (15.5, -4.5), (20, -1), (25, 2.6)]),
    (2, [(0, -3.2), (3, -2.5), (8, 1.2), (12.5, 5.2), (17, 7)]),
    (7, [(1, -1.5), (5, -.2), (8, 2.6), (12, 6.2), (17, 7.4), (24, 7.8), (30, 7.8)]),
    (9, [(2, -6), (6, -2.2), (10, 1.8), (14, 5.5), (18, 6.8), (24, 7.3), (30, 7.4)]),
    (9, [(-1, -12), (1, -8.5), (3.5, -4.5)]),
    (9, [(1, -18), (4, -16), (7, -13.5), (11, -9.5), (15, -6), (20, -1.8), (26, 2.2)]),
    (8, [(-1.8, -16), (0, -14), (2.5, -14), (4, -14.8), (6, -13.5)]),
    (9, [(-3.6, -18), (-2, -14.5), (0, -11), (3, -9)]),
    (9, [(-3.3, -23), (-2, -20), (0, -18.3), (2, -16.8), (5, -14.2)]),
    (8, [(-3, -21), (-1.5, -17), (0.5, -15), (3, -12.5), (5, -10)]),
    (9, [(-3, -17.5), (-1, -16), (1, -15.8), (3, -13.5)]),
    (8, [(4, -7), (8, -5), (12, -2), (16, 1), (20, 3.5), (24, 5)]),
    (2, [(3, -9.5), (7, -9), (11, -6), (15, -3), (19, 0), (23, 2.5)]),
    (8, [(3, -12), (7, -10), (11, -7), (15, -4)]),
    (2, [(6, -4), (10, -.5), (14, 2.5), (18, 4.5)]),
    (0, [(-9.6, -23), (-10, -30), (-9.6, -38), (-7.5, -42.5), (-5, -40), (-3.6, -34), (-3.4, -26)]),
    (7, [(-9.3, -26), (-9.6, -33), (-9, -38), (-4.2, -38), (-3.6, -30)]),
    (4, [(-8.7, -17), (-5.2, -15.5), (-3.5, -21), (-3.4, -28), (-3.8, -35), (-4.8, -39), (-7, -43), (-9.5, -38), (-9.9, -30), (-9.4, -24), (-8.9, -19), (-8.7, -17)]),
]
D_RINGS_OVER = [
    (5, [(-8, -17.5), (-5.4, -17.5), (-4, -22), (-4, -30), (-4.2, -36), (-5.5, -39.5), (-7.5, -41), (-9, -37), (-9.2, -30), (-8.6, -22), (-8, -17.5)]),
    (5, [(-8.9, -20), (-8.2, -24), (-9.3, -28), (-8.6, -33), (-9.2, -37), (-7.8, -40)]),
    (5, [(-4, -20), (-4.4, -25), (-3.7, -29), (-4.3, -33), (-3.9, -37), (-5, -41)]),
    (5, [(-20, 12.4), (-18.9, 13.2), (-15.6, 12.8), (-13.3, 10.6), (-11.4, 7.2), (-10, 5.3), (-7, 3.8), (-3.9, 1.8), (-4.4, -.4), (-7.4, -1.3), (-9.7, -1.1), (-11.2, 2), (-12, 4), (-14, 5), (-16.2, 6), (-18.4, 8.8), (-20, 11), (-20, 12.4)]),
    (5, [(9, 1.7), (13, 4.6), (17, 5.2), (21, 6), (26, 6.4), (31, 7.2), (34.4, 7.6)]),
    (5, [(21, 3.6), (26, 3.9), (31, 4.8), (34.4, 5.6)]),
]
D_HCC01 = [(-12.7, -17), (-11.3, -16.5), (-10.4, -18), (-10, -20), (-9.7, -18.5), (-12.4, -20.7), (-10.3, -23), (-11.1, -24.5), (-11.2, -25.5), (-10.5, -26), (-11.4, -28), (-9.5, -9.8), (-6.8, -9), (-6.6, -12), (-6, -13), (-5.8, -13.5), (-5, -14), (-3.5, -14), (-3.2, -11.2), (-2.2, -10.8), (-2.5, -28), (-1.9, -29.5), (-3.2, -32), (-4, -35.5), (-4.5, -37.5), (-5.2, -39.5), (-6, -42), (-8, -46), (-9, -37), (-10.9, -7.7), (-13.5, -8), (-9, 10), (-9, 11.6), (-12.5, 12.1), (-15, 12.3), (-16, 12.4), (22, 9.3), (37.8, 7.4), (34.5, 6), (33, 6.3), (30, 6.7), (27, 7.8), (-13.8, -1.8), (-8, -5), (-3, 5)]
D_HCC02 = [(-7, 6.8), (-3.1, 3), (-1.6, 6), (-1, 7), (-2.5, 4.5), (0, 5), (.5, 3.4), (1, 3.4), (2, 3.2), (1.8, 2.5), (3, 3.5), (3.5, 2.5), (4, 1.5), (5.2, 2.5), (5, 3.4), (6.2, 2.5), (7, 2), (1.2, .7), (1.5, .2), (2.5, .7), (3.4, 4.7), (5.3, 7.6), (.9, -.5), (-.5, 1), (.6, 1), (2.2, 2), (3, 1), (-.6, 1.8), (-2, .8), (-3, -3.8), (-.7, -5), (-.5, -6.2), (0, -7), (.5, -8.6), (2, -12), (4.4, -4), (11, -11.6), (12, -10), (10.5, -9.6), (3, -21.5), (-2, -25.7), (9, 4), (8, 5), (6, 3.9), (-3.4, 3.8), (-5, -3), (-2, -2)]
D_HCC03 = [(-8.5, 8.1), (-11.9, 10.8), (-14, 11.2), (-12.5, 10), (-13, 8), (-9, 3.8), (-11, 2.3), (-4, 6.4), (-3.1, 8.3), (-1.5, 7.5), (.8, 2.6), (5.3, 8), (8.7, 7), (7, 6.2), (-3.5, -3.5), (-3, -4.5), (-2.5, -3.3), (-1.8, -2.7), (-1.2, -2.5), (-1, -4.8), (-.5, -3), (-.2, -3.6), (-1.2, -6), (-1, -7), (-.5, -8), (-1.3, -8.5), (-.9, -9.8), (0, -5.5), (.3, -2.5), (.8, -3), (1, -1), (2, -1), (1.5, -2.5), (3, -1), (3.5, -2), (4, -3), (5, -2.5), (6, -1.5), (5.5, -3.5), (4, -6), (5, -5.5), (3, -4.5), (8, -12), (9.5, -12.5), (11, -12), (12, -11), (13, -9), (15, -8.5), (16, -7), (17, -6), (18, -5), (19, -3.5), (20, -2), (21, -1), (19, -3), (8, 1), (10, 1), (12, 3), (14, 4.5), (16, 5.6), (24, 2.5), (26, 3), (28, 4), (8.5, -14), (6, -16), (3.5, -16.5), (-2.8, -25.5), (-3.2, -25), (-4, -30.5)]
D_HCC04 = [(-11.9, -15.5), (-12.8, -10), (-14.7, -3.9), (-13.2, -1.7), (-4.5, -33), (-.5, -29.6), (-9.5, -35), (-8.3, -39.5), (-2.9, -22), (-1, -12.8), (2, -4.2), (2.5, -2.5), (3, -2), (2.2, -1.5), (1.5, -2), (2.8, -3), (3.5, -1), (2.5, -8.5), (2, -9), (1.5, -9.8), (3, -7.5), (5, -6), (-6, 7), (-5, 6.4), (9.3, 6.5)]
D_HCC05 = [(-18.8, 5.1), (-17.45, 5.2), (-16.5, 3.8), (-16.6, .2), (-16, -2.1), (-16, -4.3), (-15.6, -10.4), (-14.5, -19), (-14, -13.8), (-12.8, -13.8), (-11.2, -5.9), (-11.5, -3.3), (-11.9, -18.2), (-11.9, -19.6), (-10.3, -20.7), (-11.8, -23.4), (-9.5, -15.2), (-8.7, -15.7), (-8.1, -15.2), (-8.9, -19.4), (-8.6, -20.3), (-9.2, -24), (-10, -28.8), (-10, -33.9), (-9, -40.8), (-4.5, 11.3), (-1.45, 10.1), (-2.8, 7.6), (-.45, 7.8), (3.6, 6.2), (7.3, 9), (7.4, 7), (11.3, 10.1), (14.9, 8.5), (16.7, 9), (23.7, 8.9), (19.3, -5.4), (22.9, -1.2), (23, -3.1), (26, -4.1), (9.8, -11), (8.3, -13.1), (10.2, -11.2), (-2.7, -34.1), (-.2, -33.9), (-3.3, -25.6), (-1.9, -24), (-1.8, -25), (.4, -21.7), (2.6, -21.7), (-8.9, 11), (-7.75, 10.7), (-6.2, 8.3), (-8.1, 8.3), (-9.6, 9.2), (-5.9, -4.8), (-8.9, -26.7), (-8.6, -29), (-9, -32.7), (-8.6, -34.6), (-9, -37.3), (-4.3, -24), (-3.9, -26.7), (-4.3, -29), (-4, -31.8), (-4.6, -35.5), (-5.25, -38.2), (-7.4, -16.1), (-5.6, -17), (-7.9, -19)]
D_HCC06 = [(-20.6, 14), (-20.7, 12.5), (-18, 14), (-19, 13.2), (-18, -.8), (-16.8, -7.5), (-17.1, -9.4), (-17.1, -12), (-16.2, -19.2), (-14.9, -23.4), (-13.4, -11.4), (-12.6, -8.5), (-12.1, -9.8), (-11.9, -10.5), (-12.1, -11.8), (-12.4, -22.3), (-9.2, -11.8), (-8.7, -11.1), (-8.1, -10.1), (-8.6, -9), (-7.4, -11.5), (-6.8, -13.1), (-5.2, -15.2), (-8.6, -44.9), (-7.4, -44.2), (-8, -47.6), (-7.4, -47.3), (-6.6, -44), (-4.4, -42.5), (-1, -34.7), (.7, -28.8), (.6, -27.7), (1.1, -27.1), (4.25, 8.5), (22.6, -5.2), (10.5, 4.1), (8.4, 4.9), (8.9, 4.8), (-2.8, -1.8), (-4.95, -6), (-6.9, -17.5), (-5.6, -16.1), (-5, -18.2), (-7.6, -17.7), (-6.3, -18.9), (-7.9, -18.5), (-8.2, -19), (9, 2.8), (10, 3.2), (11.5, 4), (12, 4.4), (13, 4.6), (14, 5), (15, 4.6), (16, 5.5), (17, 5.5), (18, 5), (18.5, 5.5), (19, 5.9), (20, 6), (20.5, 5.7), (21, 5.4), (14, 3), (15.5, 3), (16, 1.5), (18.5, 3), (19.5, 3.2), (12, 1), (10, -.5), (9, -1), (8, -1.5), (6.5, -3), (4, -3.5), (7, -1.5), (5, -.5), (13.5, 2), (17, 3.5), (22, 5.5), (24, 6), (-5, -4), (-4, -3), (-8, -2.5), (-9.2, -4.5), (-6, -5.5), (-7.1, -6), (-5.5, -7.5), (-4.7, -6.2), (-6.5, -11), (-7, -10), (-7.5, -9), (-6, -12), (-5.3, -14), (-6.7, -15), (-5, -15.3), (-4.7, -16.5)]
D_HCC07 = [(-10.8, 3), (-10.5, 1), (-9.5, -.6), (-8.8, -2.5), (-8.7, -1.5), (-7.3, -2.5), (-8.3, -6.8), (-7.5, -6.7), (-6.9, -2), (-5.8, -.5), (-5.5, -.2), (-4, .5), (-2.5, -.5), (-1.8, 7.8), (-.2, 6.7), (.2, -5), (1.5, -1.7), (2.5, -.5), (4.7, -7), (5.1, -11.7), (6, -14), (7, -9), (3.5, -11.5), (.6, -22.5), (8, -4), (9, -6), (9.2, -5), (10, -1), (13, -1.2), (14.5, 0), (16, 1.5), (17, .5), (19, -1.5), (19.5, 2), (22, 3), (24, 4), (25, 5.5), (27, 6), (-15.2, -.9), (-14.6, -.5), (-13.7, 1), (-11.5, -2.6), (-11, -4), (-12.4, -11.5), (-15, 0), (-7, -3.5), (-7, -7), (-5, -5.5), (-3.4, -6.2), (-11.4, -7.9)]
D_HCC08 = [(-16.5, -.5), (-15.9, -1), (-14.2, -1.5), (-12, -.7), (-11, -.1), (-11.2, -2.2), (-9, -3.5), (-7.8, -1.2), (-7.5, -4), (-6.2, -3.4), (-4, -2), (-3.9, -5.5), (-2.5, -6.5), (-1.6, -8.5), (-1.5, -11), (3.8, -15), (1.5, -16.5), (1.2, -18), (2.5, -18.5), (.6, -19), (.4, -22.5), (-11.2, -24.3), (-10.5, -31.4), (-8.7, -29), (-5, -38), (-4.8, -39.5), (-4.5, -35), (-3.5, -27), (-1.2, -26.8), (9, -3.5), (11, -5), (14.5, -9), (21, -9.3), (8.7, -13.9), (16.5, -3), (17, -1), (18.5, 0), (13, 6.8), (15, 7.2), (20, 7.4), (22, 7.5), (24, 7.5), (23.9, 0), (26, 1), (5.5, 5), (4.2, 5.5), (7, -12)]
D_HCC09 = [(-3, -15.5), (-2.6, -14.7), (-2, -15), (-1.6, -15.6), (-1, -15), (-.4, -15.2), (.2, -15.5), (-1.2, -13), (.5, -13.5), (1.2, -12), (2.2, -11.5), (3, -11), (2.5, -12.8), (1.6, -15), (3.9, -12.5), (.4, -18), (.7, -16.8), (-2.8, -19.5), (-.5, -19), (7, -5), (7.5, -8), (6, -9), (10, -3), (9, -5), (12, -1), (14, 1), (16, 2), (5, -10), (8, -9)]
D_HCC10 = [(-3.7, -18), (-3.1, -19), (-3.3, -20.5), (-2.8, -20), (-2.5, -21.5), (-2.9, -22.5), (-2.2, -22), (-2, -21), (-1.9, -17), (-1.5, -16.5), (-1.2, -18), (-.9, -17.5), (-.4, -15), (-.1, -16.5), (.3, -17), (.4, -16), (.6, -14.5), (1, -13), (1.5, -14), (2, -13), (2.5, -14.5), (2.8, -13.5), (3.2, -12.5), (.3, -12), (.7, -11), (-.5, -13), (-1.3, -14), (-2, -14.5), (-2.5, -15), (-1.7, -12.5), (-1, -11), (-.7, -13), (3.5, -14), (4.3, -13), (5.1, -13.5), (4.8, -11.5), (1, -10.5), (-.8, -10.5), (0, -10), (-19, 10), (-18.5, 9), (-17, 7.2), (-16, 6), (-14.5, 5), (-13, 4), (-12, 3.5), (-16.5, 6.8)]
D_POINTS = [D_HCC01, D_HCC02, D_HCC03, D_HCC04, D_HCC05, D_HCC06, D_HCC07, D_HCC08, D_HCC09, D_HCC10]

PC_NUMBER = list(range(1, 51))
PC_STDEV = [14.84, 11.26, 9.05, 7.87, 5.46, 4.28, 4.25, 4.17, 3.46, 3.13, 3.06, 2.74, 2.67, 2.53, 2.49, 2.46, 2.31, 2.26, 2.17, 2.0, 1.91, 1.85, 1.84, 1.80, 1.74, 1.67, 1.65, 1.61, 1.59, 1.58, 1.57, 1.54, 1.52, 1.51, 1.48, 1.47, 1.45, 1.44, 1.42, 1.41, 1.39, 1.38, 1.36, 1.35, 1.34, 1.32, 1.31, 1.29, 1.29, 1.28]

W, H = 3000, 3600
fig = go.Figure()
axis_count = 0


def px_x(a, b):
    return [a / W, b / W]


def px_y(top, bottom):
    return [1 - bottom / H, 1 - top / H]


def add_axes(left, right, top, bottom, xrange, yrange, xtitle, ytitle, xtickvals, ytickvals, xticktext=None, yticktext=None, xangle=0):
    global axis_count
    axis_count += 1
    n = "" if axis_count == 1 else str(axis_count)
    common = dict(showline=True, linecolor="black", linewidth=4.5, ticks="outside", ticklen=12, tickwidth=4.5, automargin=False,
                  tickcolor="black", showgrid=False, zeroline=False, tickfont=dict(family=FONT, size=48, color="black"))
    xaxis = dict(common, domain=px_x(left, right), range=xrange, anchor="y" + n, tickmode="array",
                 tickvals=xtickvals, ticktext=xticktext or [str(v).replace("-", "\u2212") for v in xtickvals], tickangle=xangle,
                 ticklabelstandoff=-10, title=dict(text=xtitle, standoff=16, font=dict(family=FONT, size=58, color="black")))
    if xangle:
        # rotated sample names sit a little larger and closer to their ticks
        xaxis.update(tickfont=dict(family=FONT, size=53, color="black"), ticklabelshift=20, ticklabelstandoff=-26)
    fig.layout["xaxis" + n] = xaxis
    fig.layout["yaxis" + n] = dict(common, domain=px_y(top, bottom), range=yrange, anchor="x" + n, tickmode="array",
                                   tickvals=ytickvals, ticktext=yticktext or [str(v).replace("-", "\u2212") for v in ytickvals],
                                   title=dict(text=ytitle, standoff=12, font=dict(family=FONT, size=58, color="black")))
    return "x" + n, "y" + n


def add_polys(polys, color, xa, ya, lw, dash):
    for poly in polys:
        xs = [p[0] for p in poly] + [poly[0][0]]
        ys = [p[1] for p in poly] + [poly[0][1]]
        fig.add_trace(go.Scatter(x=xs, y=ys, mode="lines", fill="toself", fillcolor=color, line=dict(color=color, width=lw, dash=dash),
                                 xaxis=xa, yaxis=ya, showlegend=False, hoverinfo="skip"))


def add_ring(k, line, xa, ya):
    fig.add_trace(go.Scatter(x=[p[0] for p in line], y=[p[1] for p in line], mode="lines", line=dict(color=COLORS[k], width=7, dash="6px,9px"),
                             xaxis=xa, yaxis=ya, showlegend=False, hoverinfo="skip"))


def add_points(points, color, xa, ya, size, name):
    fig.add_trace(go.Scatter(x=[p[0] for p in points], y=[p[1] for p in points], mode="markers", name=name,
                             marker=dict(color=color, size=size, line=dict(width=0)), xaxis=xa, yaxis=ya, showlegend=False))


def scatter_panel(dense, points, xa, ya, size, lw, dash, poly_order, under=(), over=()):
    for k in poly_order:
        if k != 5:
            add_polys(dense.get(k, []), COLORS[k], xa, ya, lw, dash)
    for k, line in under:
        add_ring(k, line, xa, ya)
    for k in DRAW_ORDER:
        add_points(points[k], COLORS[k], xa, ya, size, SAMPLES[k])
    add_polys(dense.get(5, []), COLORS[5], xa, ya, lw, dash)
    for k, line in over:
        add_ring(k, line, xa, ya)
    add_points(points[5], COLORS[5], xa, ya, size, SAMPLES[5])


def violin_panel(left, right, top, bottom, yrange, ytickvals, ytitle, ys, ws):
    xa, ya = add_axes(left, right, top, bottom, [-0.6, 9.6], yrange, "", ytitle, list(range(10)), ytickvals,
                      xticktext=SAMPLES, xangle=-45)
    for i in range(10):
        xs = [i + w for w in ws[i]] + [i - w for w in reversed(ws[i])]
        yy = ys[i] + list(reversed(ys[i]))
        fig.add_trace(go.Scatter(x=xs + xs[:1], y=yy + yy[:1], mode="lines", fill="toself", fillcolor=COLORS[i], name=SAMPLES[i],
                                 line=dict(color="#333333", width=4, shape="spline", smoothing=0.6),
                                 xaxis=xa, yaxis=ya, showlegend=False, hoverinfo="skip"))


def side_legend(left, text_left, first_y, step, size):
    axis = dict(visible=False, fixedrange=True, automargin=False)
    global axis_count
    axis_count += 1
    n = str(axis_count)
    fig.layout["xaxis" + n] = dict(axis, domain=px_x(left, text_left), range=[0, 1], anchor="y" + n)
    fig.layout["yaxis" + n] = dict(axis, domain=px_y(first_y - step / 2, first_y + 9.5 * step), range=[9.5, -0.5], anchor="x" + n)
    rows = list(range(10))
    fig.add_trace(go.Scatter(x=[0] * 10, y=rows, mode="markers", marker=dict(color=COLORS, size=size), xaxis="x" + n, yaxis="y" + n,
                             showlegend=False, cliponaxis=False, hoverinfo="skip"))
    fig.add_trace(go.Scatter(x=[1] * 10, y=rows, mode="text", text=SAMPLES, textposition="middle right", xaxis="x" + n, yaxis="y" + n,
                             textfont=dict(family=FONT, size=48, color="black"), showlegend=False, cliponaxis=False, hoverinfo="skip"))


# panel A
A_COUNT_TICKS = [0, 50000, 100000]
A_COUNT_TEXT = ["0e+00", "5e+04", "1e+05"]
A_DASH = "15px,4px"
xa, ya = add_axes(265, 909, 119, 728, [136, 8357], [-5850, 136800], "nFeature_RNA", "nCount_RNA", [2000, 4000, 6000, 8000], A_COUNT_TICKS, yticktext=A_COUNT_TEXT)
scatter_panel(A1_DENSE, A1_POINTS, xa, ya, 16, 16, A_DASH, [1, 7, 3, 9, 8])
xa, ya = add_axes(1203, 1848, 119, 728, [-0.99, 21.1], [-5850, 136800], "percent.mt", "nCount_RNA", [0, 5, 10, 15, 20], A_COUNT_TICKS, yticktext=A_COUNT_TEXT)
scatter_panel(A2_DENSE, A2_POINTS, xa, ya, 16, 16, A_DASH, [1, 2, 3, 9, 8])
xa, ya = add_axes(2112, 2627, 119, 728, [-0.98, 21.03], [127, 8394], "percent.mt", "nFeature_RNA", [0, 5, 10, 15, 20], [2000, 4000, 6000, 8000])
scatter_panel(A3_DENSE, A3_POINTS, xa, ya, 16, 16, A_DASH, [9, 2, 3, 8, 6])
side_legend(2715, 2780, 181, 64, 16)

# panels B and C
violin_panel(203, 950, 1041, 1481, [9.14, 17.39], [11, 13, 15, 17], "log2(nCount_RNA+1)", B1_Y, B1_W)
violin_panel(1203, 1950, 1041, 1481, [8.77, 13.18], [9, 10, 11, 12, 13], "log2(nFeature_RNA+1)", B2_Y, B2_W)
violin_panel(2175, 2950, 1041, 1481, [-0.21, 4.63], [0, 1, 2, 3, 4], "log2(percent.mt+1)", B3_Y, B3_W)
violin_panel(203, 950, 1941, 2381, [9.15, 16.68], [11, 13, 15], "log2(nCount_RNA+1)", C1_Y, C1_W)
violin_panel(1203, 1950, 1941, 2381, [8.79, 12.75], [9, 10, 11, 12], "log2(nFeature_RNA+1)", C2_Y, C2_W)
violin_panel(2175, 2950, 1941, 2381, [-0.21, 4.63], [0, 1, 2, 3, 4], "log2(percent.mt+1)", C3_Y, C3_W)

# panel D
xa, ya = add_axes(234, 1312, 2842, 3405, [-23.45, 40.6], [-50.7, 17.1], "PC_1", "PC_2", [-20, 0, 20, 40], [-40, -20, 0])
scatter_panel(D_DENSE, D_POINTS, xa, ya, 7, 3, "solid", [1, 9, 8, 2], D_RINGS_UNDER, D_RINGS_OVER)
side_legend(1402, 1466, 2853, 64, 32)
xa, ya = add_axes(1868, 2949, 2842, 3405, [-1.45, 52.44], [0.6, 15.53], "PC", "Standard Deviation", [0, 10, 20, 30, 40, 50], [5, 10, 15])
fig.add_trace(go.Scatter(x=PC_NUMBER, y=PC_STDEV, mode="markers", marker=dict(color="black", size=20), xaxis=xa, yaxis=ya, showlegend=False))

# titles and panel letters
TITLES = [("0.91", 583, 54), ("0.1", 1522, 54), ("0.17", 2369, 54), ("Samples", 773, 2778)]
LETTERS = [("A", 43, 43), ("B", 43, 943), ("C", 43, 1845), ("D", 40, 2748)]
for text, x, y in TITLES:
    fig.add_annotation(text="<b>%s</b>" % text, x=x / W, y=1 - y / H, xref="paper", yref="paper", showarrow=False, xanchor="center", yanchor="middle",
                       font=dict(family=FONT, size=63, color="black"))
for text, x, y in LETTERS:
    fig.add_annotation(text="<b>%s</b>" % text, x=x / W, y=1 - y / H, xref="paper", yref="paper", showarrow=False, xanchor="center", yanchor="middle",
                       font=dict(family=FONT, size=55, color="black"))
fig.add_annotation(text="Identity", x=2687 / W, y=1 - 92 / H, xref="paper", yref="paper", showarrow=False, xanchor="left", yanchor="middle",
                   font=dict(family=FONT, size=57, color="black"))

fig.update_layout(width=W, height=H, margin=dict(l=0, r=0, t=0, b=0, autoexpand=False), paper_bgcolor="white", plot_bgcolor="white", showlegend=False)
fig.write_html("out.html", post_script="document.body.style.margin='0';")
